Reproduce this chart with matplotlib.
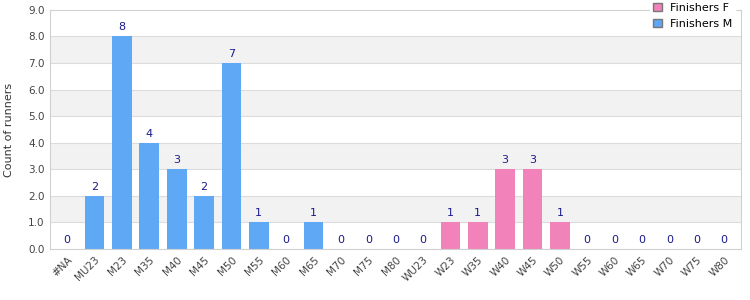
import numpy as np
import matplotlib.pyplot as plt
from matplotlib.patches import Patch

categories = ['#NA', 'MU23', 'M23', 'M35', 'M40', 'M45', 'M50', 'M55', 'M60', 'M65',
              'M70', 'M75', 'M80', 'WU23', 'W23', 'W35', 'W40', 'W45', 'W50', 'W55',
              'W60', 'W65', 'W70', 'W75', 'W80']
finishers_m = [0, 2, 8, 4, 3, 2, 7, 1, 0, 1, 0, 0, 0, 0, 0, 0, 0, 0, 0, 0, 0, 0, 0, 0, 0]
finishers_f = [0, 0, 0, 0, 0, 0, 0, 0, 0, 0, 0, 0, 0, 0, 1, 1, 3, 3, 1, 0, 0, 0, 0, 0, 0]

blue = '#5fa8f5'
pink = '#f283ba'

fig = plt.figure(figsize=(7.5, 3), dpi=100)
ax = fig.add_axes([0.067, 0.17, 0.921, 0.797])

x = np.arange(len(categories))
m = np.array(finishers_m)
f = np.array(finishers_f)

# alternating bands
for lo in range(0, 9):
    if lo % 2 == 1:
        ax.axhspan(lo, lo + 1, color='#f2f2f2', zorder=0, lw=0)
for yv in range(1, 9):
    ax.axhline(yv, color='#dcdcdc', lw=0.8, zorder=1)

ax.bar(x, m, width=0.72, color=blue, zorder=2)
ax.bar(x, f, bottom=m, width=0.72, color=pink, zorder=2)

for xi, total in zip(x, m + f):
    ax.text(xi, total + 0.15, '%d' % total, ha='center', va='bottom',
            fontsize=8, color='#1a1a8c', zorder=3)

ax.set_xlim(-0.62, len(categories) - 0.38)
ax.set_ylim(0, 9)
ax.set_yticks(np.arange(0, 10))
ax.set_yticklabels(['%.1f' % v for v in range(0, 10)])
ax.set_xticks(x)
ax.set_xticklabels(categories, rotation=45, ha='right', rotation_mode='anchor')
ax.tick_params(axis='both', labelsize=7.5, colors='#444444', length=0, pad=4)
ax.set_ylabel('Count of runners', fontsize=8, color='#333333', labelpad=10)

for side in ['left', 'bottom', 'top', 'right']:
    ax.spines[side].set_color('#d0d0d0')
    ax.spines[side].set_linewidth(0.8)

handles = [Patch(facecolor=pink, edgecolor='#777777', label='Finishers F'),
           Patch(facecolor=blue, edgecolor='#777777', label='Finishers M')]
leg = ax.legend(handles=handles, loc='upper right', bbox_to_anchor=(1.0, 1.065),
                fontsize=8, frameon=True, handlelength=0.75, handleheight=0.75,
                handletextpad=0.8, borderpad=0.25, labelspacing=0.55, fancybox=False)
leg.get_frame().set_edgecolor('white')
leg.get_frame().set_facecolor('white')
leg.get_frame().set_alpha(1)
leg.set_zorder(5)

fig.savefig('out.png', dpi=100)
